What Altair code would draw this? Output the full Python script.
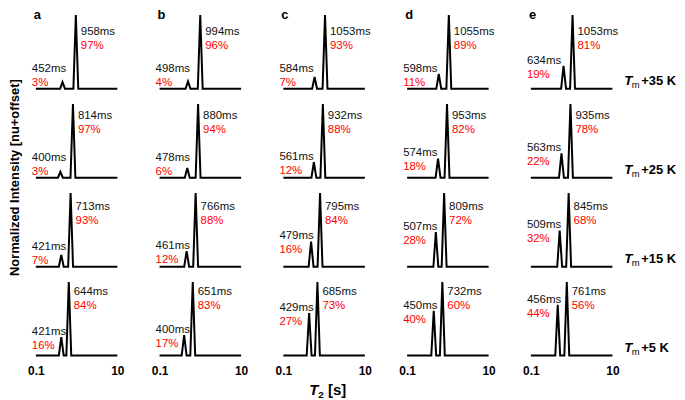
import altair as alt
import pandas as pd

# ---------------- data ----------------
columns = ["a", "b", "c", "d", "e"]
temps = ["+35 K", "+25 K", "+15 K", "+5 K"]

small_ms = [
    [452, 498, 584, 598, 634],
    [400, 478, 561, 574, 563],
    [421, 461, 479, 507, 509],
    [421, 400, 429, 450, 456],
]
big_ms = [
    [958, 994, 1053, 1055, 1053],
    [814, 880, 932, 953, 935],
    [713, 766, 795, 809, 845],
    [644, 651, 685, 732, 761],
]
small_pct = [
    [3, 4, 7, 11, 19],
    [3, 6, 12, 18, 22],
    [7, 12, 16, 28, 32],
    [16, 17, 27, 40, 44],
]
big_pct = [
    [97, 96, 93, 89, 81],
    [97, 94, 88, 82, 78],
    [93, 88, 84, 72, 68],
    [84, 83, 73, 60, 56],
]
# peak heights relative to the main peak (normalized intensity)
small_height = [
    [0.09, 0.10, 0.16, 0.20, 0.31],
    [0.08, 0.13, 0.21, 0.26, 0.33],
    [0.16, 0.21, 0.34, 0.47, 0.49],
    [0.25, 0.28, 0.58, 0.61, 0.69],
]
big_height = 1.0
x_domain = [0.1, 10]
x_ticks = [0.1, 10]

# ---------------- layout / style ----------------
half_width = 10 ** 0.06           # half base width of a peak (log units)
big_label_y = [0.77, 0.84, 0.81, 0.86]   # label height per row
line_gap = 0.19
RED = "#ff0000"
FONT = "Liberation Sans"
LABEL_SIZE = 11.5

recs = []
for r, temp in enumerate(temps):
    for c, col in enumerate(columns):
        s = small_ms[r][c] / 1000
        b = big_ms[r][c] / 1000
        hs = small_height[r][c]
        pts = [
            (x_domain[0], 0), (s / half_width, 0), (s, hs), (s * half_width, 0),
            (b / half_width, 0), (b, big_height), (b * half_width, 0), (x_domain[1], 0),
        ]
        for i, (x, y) in enumerate(pts):
            recs.append(dict(row=temp, col=col, kind="line", i=i, x=x, y=y))
        by = big_label_y[r]
        recs.append(dict(row=temp, col=col, kind="big", x=b, y=by,
                         text=f"{big_ms[r][c]}ms", color="#111111"))
        recs.append(dict(row=temp, col=col, kind="big", x=b, y=by - line_gap,
                         text=f"{big_pct[r][c]}%", color=RED))
        sy = max(hs + 0.07, 0.27)
        recs.append(dict(row=temp, col=col, kind="small", x=x_domain[0], y=sy,
                         text=f"{small_ms[r][c]}ms", color="#111111"))
        recs.append(dict(row=temp, col=col, kind="small", x=x_domain[0], y=sy - line_gap,
                         text=f"{small_pct[r][c]}%", color=RED))
        if r == 0:
            recs.append(dict(row=temp, col=col, kind="letter", x=x_domain[0], y=1, text=col))
        if col == "e":
            recs.append(dict(row=temp, col=col, kind="rowT", x=x_domain[1], y=0, text="T"))
            recs.append(dict(row=temp, col=col, kind="rowm", x=x_domain[1], y=0, text="m"))
            recs.append(dict(row=temp, col=col, kind="rowK", x=x_domain[1], y=0, text=temp))
        if r == 1 and col == "a":
            recs.append(dict(row=temp, col=col, kind="ytitle", x=x_domain[0], y=0,
                             text="Normalized Intensity [nu+offset]"))
        if r == 3 and col == "c":
            recs.append(dict(row=temp, col=col, kind="xT", x=1, y=0, text="T"))
            recs.append(dict(row=temp, col=col, kind="x2", x=1, y=0, text="2"))
            recs.append(dict(row=temp, col=col, kind="xs", x=1, y=0, text="[s]"))

df = pd.DataFrame(recs)

X = alt.X("x:Q", scale=alt.Scale(type="log", domain=x_domain),
          axis=alt.Axis(values=x_ticks, format="~g", title=None, domain=False,
                        ticks=False, tickSize=0, grid=False, labelFont=FONT,
                        labelFontWeight="bold", labelFontSize=12, labelColor="black",
                        labelFlush=False, labelPadding=10))
Y = alt.Y("y:Q", scale=alt.Scale(domain=[0, 1]), axis=None)


def kind(k):
    return alt.datum.kind == k


line = alt.Chart().mark_line(color="black", strokeWidth=2).encode(
    x=X, y=Y, order=alt.Order("i:Q")).transform_filter(kind("line"))

big_txt = alt.Chart().mark_text(align="left", baseline="middle", dx=5, font=FONT,
                                fontSize=LABEL_SIZE).encode(
    x=X, y=Y, text="text:N", color=alt.Color("color:N", scale=None)
).transform_filter(kind("big"))

small_txt = alt.Chart().mark_text(align="left", baseline="middle", dx=-4, font=FONT,
                                  fontSize=LABEL_SIZE).encode(
    x=X, y=Y, text="text:N", color=alt.Color("color:N", scale=None)
).transform_filter(kind("small"))

letters = alt.Chart().mark_text(align="left", baseline="middle", dx=-2, dy=0, font=FONT,
                                fontSize=13, fontWeight="bold", color="black").encode(
    x=X, y=Y, text="text:N").transform_filter(kind("letter"))

rowT = alt.Chart().mark_text(align="left", baseline="alphabetic", dx=12, dy=-4, font=FONT,
                             fontSize=13.5, fontWeight="bold", fontStyle="italic",
                             color="black").encode(
    x=X, y=Y, text="text:N").transform_filter(kind("rowT"))
rowm = alt.Chart().mark_text(align="left", baseline="alphabetic", dx=19.5, dy=-1, font=FONT,
                             fontSize=9.5, color="black").encode(
    x=X, y=Y, text="text:N").transform_filter(kind("rowm"))
rowK = alt.Chart().mark_text(align="left", baseline="alphabetic", dx=29, dy=-4, font=FONT,
                             fontSize=13, fontWeight="bold", color="black").encode(
    x=X, y=Y, text="text:N").transform_filter(kind("rowK"))

ytitle = alt.Chart().mark_text(align="center", baseline="middle", angle=270,
                               xOffset=-21, font=FONT, fontSize=13, fontWeight="bold",
                               color="black").encode(
    x=X, y=Y, text="text:N").transform_filter(kind("ytitle"))

xT = alt.Chart().mark_text(align="left", baseline="alphabetic", dx=-15, dy=40, font=FONT,
                           fontSize=15, fontWeight="bold", fontStyle="italic",
                           color="black").encode(
    x=X, y=Y, text="text:N").transform_filter(kind("xT"))
x2 = alt.Chart().mark_text(align="left", baseline="alphabetic", dx=-6, dy=43, font=FONT,
                           fontSize=10, fontWeight="bold", color="black").encode(
    x=X, y=Y, text="text:N").transform_filter(kind("x2"))
xs = alt.Chart().mark_text(align="left", baseline="alphabetic", dx=4, dy=40, font=FONT,
                           fontSize=15, fontWeight="bold", color="black").encode(
    x=X, y=Y, text="text:N").transform_filter(kind("xs"))

panel = alt.layer(line, big_txt, small_txt, letters, rowT, rowm, rowK, ytitle, xT, x2, xs,
                  data=df).properties(width=82, height=74)

chart = panel.facet(
    row=alt.Row("row:N", sort=temps, header=None),
    column=alt.Column("col:N", sort=columns, header=None),
    spacing={"row": 15.5, "column": 42.5},
).properties(bounds="flush", padding=0).configure_view(stroke=None)

chart.save("out.html", embed_options={"renderer": "svg", "actions": False})
